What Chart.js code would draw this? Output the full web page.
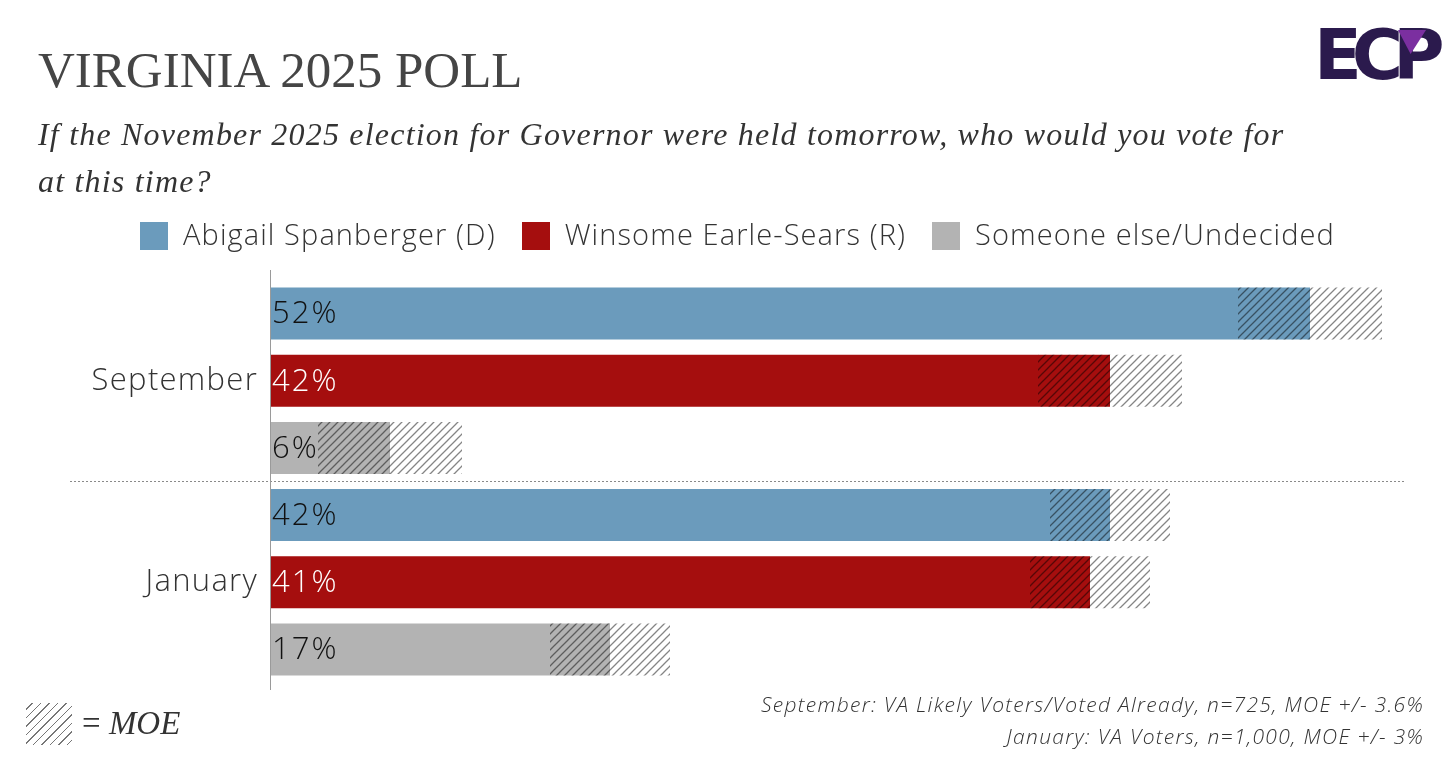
<!DOCTYPE html>
<html>
<head>
<meta charset="utf-8">
<script src="https://cdn.jsdelivr.net/npm/chart.js@4.4.1/dist/chart.umd.min.js"></script>
<style>
  html, body { margin: 0; padding: 0; background: #fff; }
  body { width: 1456px; height: 762px; position: relative; overflow: hidden; }
  #chart { position: absolute; left: 0; top: 0; }
  .abs { position: absolute; white-space: nowrap; }
  .title { left: 38px; top: 45px; font: 51px "Liberation Serif", serif; color: #454545; line-height: 1; }
  .sub { left: 38px; top: 111px; font: italic 32px "Liberation Serif", serif; color: #333; line-height: 47px; letter-spacing: 1.2px; }
  .legend { top: 216px; font: 300 29px "Open Sans", sans-serif; color: #333; line-height: 36px; letter-spacing: 1.1px; }
  .legend i { display: inline-block; width: 28px; height: 28px; vertical-align: -5px; margin-right: 15px; }
  .note { right: 32px; font: italic 300 21px "Open Sans", sans-serif; color: #333; text-align: right; letter-spacing: 1.3px; }
  .moebox { left: 26px; top: 703px; width: 46px; height: 42px;
    background: repeating-linear-gradient(135deg, #fff 0 4px, #777 4px 5.3px, #fff 5.3px 6px); }
  .moetxt { left: 82px; top: 702px; font: 33px "Liberation Serif", serif; color: #333; line-height: 42px; }
  .logo { left: 1314px; top: 20px; font: bold 70px "DejaVu Sans", sans-serif; color: #2b1a4d; letter-spacing: -10px; line-height: 1; }
  .logo-mark { left: 1398px; top: 30px; width: 28px; height: 24px; background: #7b2fa0;
    clip-path: polygon(0 0, 100% 0, 45% 100%); }
</style>
</head>
<body>
<canvas id="chart" width="1456" height="762"></canvas>
<div class="abs title">VIRGINIA 2025 POLL</div>
<div class="abs sub">If the November 2025 election for Governor were held tomorrow, who would you vote for<br>at this time?</div>
<div class="abs legend" id="legend"></div>
<div class="abs moebox"></div>
<div class="abs moetxt">= <i>MOE</i></div>
<div class="abs note" style="top: 690px;">September: VA Likely Voters/Voted Already, n=725, MOE +/- 3.6%</div>
<div class="abs note" style="top: 722px;">January: VA Voters, n=1,000, MOE +/- 3%</div>
<div class="abs logo">ECP</div>
<div class="abs logo-mark"></div>
<script>
// --- Data ---
const periods = ['September', 'January'];
const candidates = ['Abigail Spanberger (D)', 'Winsome Earle-Sears (R)', 'Someone else/Undecided'];
const spanberger = [52, 42];
const earleSears = [42, 41];
const undecided = [6, 17];
const moe = [3.6, 3];

const colors = ['#6b9bbc', '#a50e0e', '#b3b3b3'];
const labelColors = ['#111', '#fff', '#111'];

// --- Rows: one bar per candidate per period ---
const series = [spanberger, earleSears, undecided];
const rowLabels = [], rowValues = [], rowMoe = [], rowColors = [], rowText = [];
periods.forEach((p, pi) => {
    series.forEach((s, ci) => {
        rowLabels.push(ci === 1 ? p : '');
        rowValues.push(s[pi]);
        rowMoe.push([s[pi] - moe[pi], s[pi] + moe[pi]]);
        rowColors.push(colors[ci]);
        rowText.push(labelColors[ci]);
    });
});

// --- Legend ---
document.getElementById('legend').innerHTML = candidates.map((c, i) =>
    `<span style="margin-right:${i < 2 ? 26 : 0}px"><i style="background:${colors[i]}"></i>${c}</span>`
).join('');
document.getElementById('legend').style.left = '140px';

// --- Hatch pattern for MOE ---
const pc = document.createElement('canvas');
pc.width = 8; pc.height = 8;
const pctx = pc.getContext('2d');
pctx.strokeStyle = 'rgba(0,0,0,0.48)';
pctx.lineWidth = 1.3;
pctx.beginPath();
pctx.moveTo(0, 8); pctx.lineTo(8, 0);
pctx.moveTo(-2, 2); pctx.lineTo(2, -2);
pctx.moveTo(6, 10); pctx.lineTo(10, 6);
pctx.stroke();
const hatch = document.getElementById('chart').getContext('2d').createPattern(pc, 'repeat');

// --- Plugins ---
const decorations = {
    id: 'decorations',
    beforeDraw(chart) {
        // wider tracking for the period labels on the y axis
        chart.ctx.letterSpacing = '1.3px';
    },
    beforeDatasetsDraw(chart) {
        const { ctx, chartArea, scales: { y } } = chart;
        ctx.letterSpacing = '0px';
        ctx.save();
        // separator between the two polls
        const sepY = (y.getPixelForValue(2) + y.getPixelForValue(3)) / 2;
        ctx.strokeStyle = '#8a8a8a';
        ctx.lineWidth = 1;
        ctx.setLineDash([2, 2]);
        ctx.beginPath();
        ctx.moveTo(70, sepY); ctx.lineTo(chartArea.right, sepY);
        ctx.stroke();
        ctx.restore();
    },
    afterDatasetsDraw(chart) {
        const { ctx, chartArea } = chart;
        ctx.save();
        // vertical axis line
        ctx.strokeStyle = '#9a9a9a';
        ctx.lineWidth = 1;
        ctx.beginPath();
        ctx.moveTo(chartArea.left + 0.5, chartArea.top - 10);
        ctx.lineTo(chartArea.left + 0.5, chartArea.bottom + 7);
        ctx.stroke();
        // value labels
        const meta = chart.getDatasetMeta(1);
        ctx.font = '300 31px "Open Sans", sans-serif';
        ctx.letterSpacing = '2px';
        ctx.textBaseline = 'middle';
        ctx.textAlign = 'left';
        meta.data.forEach((bar, i) => {
            ctx.fillStyle = rowText[i];
            ctx.fillText(rowValues[i] + '%', bar.base + 2, bar.y + 1);
        });
        ctx.restore();
    }
};

new Chart(document.getElementById('chart'), {
    type: 'bar',
    data: {
        labels: rowLabels,
        datasets: [
            {
                label: 'MOE',
                data: rowMoe,
                backgroundColor: hatch,
                grouped: false,
                order: 1,
                barPercentage: 0.775,
                categoryPercentage: 1
            },
            {
                label: 'Share',
                data: rowValues,
                backgroundColor: rowColors,
                grouped: false,
                order: 2,
                barPercentage: 0.775,
                categoryPercentage: 1
            }
        ]
    },
    options: {
        indexAxis: 'y',
        responsive: false,
        animation: false,
        layout: { padding: { left: 0, top: 280, right: 51, bottom: 79 } },
        plugins: { legend: { display: false }, tooltip: { enabled: false } },
        scales: {
            x: { display: false, min: 0, max: 56.75 },
            y: {
                grid: { display: false },
                border: { display: false },
                ticks: { color: '#333', font: { family: 'Open Sans', size: 31, weight: 300 }, padding: 4 },
                afterFit(scale) { scale.width = 270; }
            }
        }
    },
    plugins: [decorations]
});
</script>
</body>
</html>
